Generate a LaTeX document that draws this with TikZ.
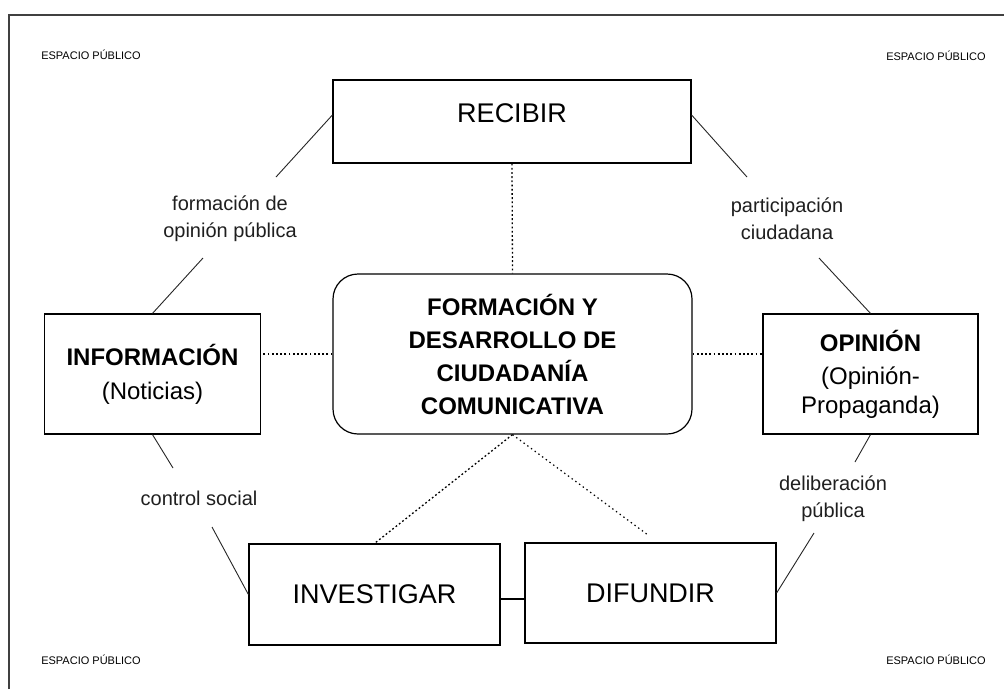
\documentclass[tikz,border=0pt]{standalone}
\usepackage{fontspec}
\setmainfont{Liberation Sans}
\begin{document}
\begin{tikzpicture}[x=1pt,y=-1pt,
  box/.style={draw=black,line width=1.2pt,fill=white,inner sep=0pt,align=center},
  bigtxt/.style={font=\fontsize{27}{32}\selectfont},
  sidetxt/.style={font=\fontsize{24}{30}\selectfont},
  lbl/.style={font=\fontsize{20}{27}\selectfont,align=center,text=black!88,inner sep=0pt},
  esp/.style={font=\fontsize{11}{13}\selectfont,inner sep=0pt},
  link/.style={draw=black!85,line width=0.9pt},
  dotline/.style={draw=black,line width=1.3pt,dash pattern=on 1.8pt off 2.4pt},
  dotlinelight/.style={draw=black,line width=1.2pt,dash pattern=on 1.4pt off 3.2pt}]
\useasboundingbox (0,0) rectangle (1004,689);
\fill[white] (0,0) rectangle (1004,689);
% frame
\draw[line width=1.5pt,black!75] (9,689) -- (9,15) -- (1004,15);
% corner labels
\node[esp] (e1) at (91,55) {ESPACIO PÚBLICO};
\node[esp] (e2) at (936,56) {ESPACIO PÚBLICO};
\node[esp] (e3) at (91,660) {ESPACIO PÚBLICO};
\node[esp] (e4) at (936,660) {ESPACIO PÚBLICO};
% boxes
\node[box,bigtxt,minimum width=358pt,minimum height=83pt,text depth=16pt] (recibir) at (512,121.5) {RECIBIR};
\node[box,rounded corners=25pt,minimum width=359pt,minimum height=160pt,
      font=\fontsize{24}{33}\selectfont\bfseries] (centro) at (512.5,354)
      {FORMACIÓN Y\\DESARROLLO DE\\CIUDADANÍA\\COMUNICATIVA};
\node[box,sidetxt,minimum width=216pt,minimum height=120pt] (info) at (152.5,374)
      {\textbf{INFORMACIÓN}\\[4pt](Noticias)};
\node[box,minimum width=215pt,minimum height=120pt,font=\fontsize{24}{29}\selectfont] (opinion) at (870.5,374)
      {\textbf{OPINIÓN}\\[4pt](Opinión-\\Propaganda)};
\node[box,bigtxt,minimum width=251pt,minimum height=101pt] (invest) at (374.5,594.5) {INVESTIGAR};
\node[box,bigtxt,minimum width=251pt,minimum height=100pt] (difund) at (650.5,593) {DIFUNDIR};
% labels
\node[lbl] (l1) at (230,218.5) {formación de\\opinión pública};
\node[lbl] (l2) at (787,218.5) {participación\\ciudadana};
\node[lbl] (l3) at (199,498) {control social};
\node[lbl] (l4) at (833,498.5) {deliberación\\pública};
% free ends
\coordinate (a1) at (276,177);
\coordinate (a2) at (203,258);
\coordinate (b1) at (747,177);
\coordinate (b2) at (819,258);
\coordinate (c1) at (173,468);
\coordinate (c2) at (212,527);
\coordinate (d1) at (855,462);
\coordinate (d2) at (814,533);
\coordinate (difend) at (648,535);
% dotted connectors
\draw[dotline] (recibir.south) -- (centro.north);
\draw[dotline] (centro.west) -- (centro.west -| info.east);
\draw[dotline] (centro.east) -- (centro.east -| opinion.west);
\draw[dotline] (centro.south) -- (invest.north);
\draw[dotlinelight] (centro.south) -- (difend);
% solid connectors
\draw[line width=1.2pt] ([yshift=-4.5pt]invest.east) -- ([yshift=-4.5pt]invest.east -| difund.west);
\draw[link] ([yshift=6.5pt]recibir.west) -- (a1);
\draw[link] (a2) -- (info.north);
\draw[link] ([yshift=6.5pt]recibir.east) -- (b1);
\draw[link] (b2) -- (opinion.north);
\draw[link] (info.south) -- (c1);
\draw[link] (c2) -- (invest.west);
\draw[link] (opinion.south) -- (d1);
\draw[link] (d2) -- (difund.east);
\end{tikzpicture}
\end{document}
